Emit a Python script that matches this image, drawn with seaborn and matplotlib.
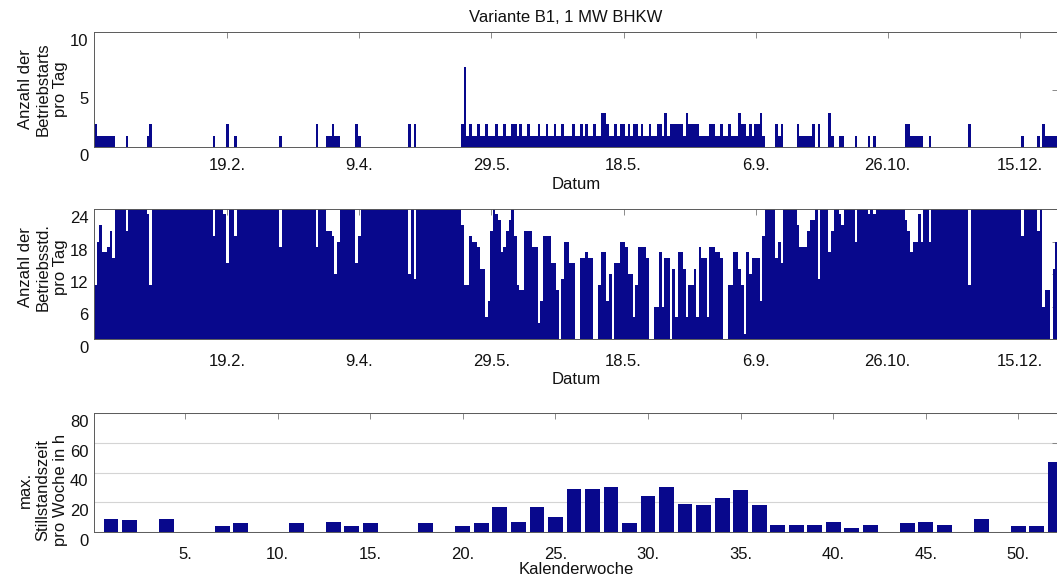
import numpy as np
import pandas as pd
import matplotlib
matplotlib.use("Agg")
import matplotlib.pyplot as plt
import matplotlib.transforms as mtransforms
import seaborn as sns

# Betriebsstarts pro Tag, nach Monaten
starts_jan = [2,1,1,1,1,1,1,1,0,0, 0,0,1,0,0,0,0,0,0,0, 1,2,0,0,0,0,0,0,0,0, 0]
starts_feb = [0,0,0,0,0,0,0,0,0,0, 0,0,0,0,1,0,0,0,0,2, 0,0,1,0,0,0,0,0]
starts_mar = [0,0,0,0,0,0,0,0,0,0, 0,1,0,0,0,0,0,0,0,0, 0,0,0,0,0,2,0,0,0,1, 1]
starts_apr = [2,1,1,0,0,0,0,0,0,2, 1,0,0,0,0,0,0,0,0,0, 0,0,0,0,0,0,0,0,0,2]
starts_may = [0,2,0,0,0,0,0,0,0,0, 0,0,0,0,0,0,0,0,0,2, 7,1,2,1,1,2,1,1,2,1, 1]
starts_jun = [1,2,1,1,2,1,1,2,2,1, 2,1,1,2,1,1,1,2,1,1, 2,1,1,2,1,1,2,1,1,1]
starts_jul = [2,1,1,2,1,2,1,1,2,1, 1,3,3,2,1,1,2,1,2,2, 1,2,1,2,2,1,2,1,1,2, 1]
starts_aug = [1,2,2,1,3,1,2,2,2,2, 2,1,3,2,2,2,2,1,1,1, 1,2,2,1,1,2,1,1,2,1, 1]
starts_sep = [1,3,2,2,1,2,1,2,2,3, 1,0,0,0,0,2,1,2,0,0, 0,0,0,2,1,1,1,1,1,2]
starts_oct = [0,2,0,0,0,3,1,0,0,1, 1,0,0,0,0,1,0,0,0,0, 1,0,1,0,0,0,0,0,0,0, 0]
starts_nov = [0,0,0,2,2,1,1,1,1,1, 0,0,1,0,0,0,0,0,0,0, 0,0,0,0,0,0,0,2,0,0]
starts_dec = [0,0,0,0,0,0,0,0,0,0, 0,0,0,0,0,0,0,1,0,0, 0,0,0,1,0,2,1,1,1,1, 1]

# Betriebsstunden pro Tag, nach Monaten
hours_jan = [10,18,21,16,16,17,20,15,24,24, 24,24,20,24,24,24,24,24,24,24, 23,10,24,24,24,24,24,24,24,24, 24]
hours_feb = [24,24,24,24,24,24,24,24,24,24, 24,24,24,24,19,24,24,24,23,14, 24,24,19,24,24,24,24,24]
hours_mar = [24,24,24,24,24,24,24,24,24,24, 24,17,24,24,24,24,24,24,24,24, 24,24,24,24,24,17,24,24,24,20, 20]
hours_apr = [19,12,18,24,24,24,24,24,24,14, 19,24,24,24,24,24,24,24,24,24, 24,24,24,24,24,24,24,24,24,12]
hours_may = [24,11,24,24,24,24,24,24,24,24, 24,24,24,24,24,24,24,24,24,21, 10,10,19,18,18,17,13,13,4,7, 20]
hours_jun = [24,23,22,16,17,20,22,24,19,10, 9,9,20,20,20,17,17,3,7,19, 19,19,14,14,9,0,11,18,18,14]
hours_jul = [14,0,0,15,15,16,15,15,0,0, 10,16,16,7,12,0,14,14,18,18, 17,12,12,4,10,17,17,17,15,0, 0]
hours_aug = [6,6,16,6,15,15,0,13,4,16, 16,13,4,10,10,13,4,17,15,15, 4,17,17,16,16,15,0,0,10,10, 16]
hours_sep = [16,13,10,1,16,12,15,15,15,7, 19,24,24,24,24,15,18,14,24,24, 24,24,24,21,17,17,17,20,22,22]
hours_oct = [24,11,24,24,24,16,20,24,24,23, 21,24,24,24,24,18,24,24,24,24, 23,24,23,24,24,24,24,24,24,24, 24]
hours_nov = [24,24,24,22,20,16,18,18,23,18, 24,24,18,24,24,24,24,24,24,24, 24,24,24,24,24,24,24,10,24,24]
hours_dec = [24,24,24,24,24,24,24,24,24,24, 24,24,24,24,24,24,24,19,24,24, 24,24,24,20,24,6,9,9,0,13, 18]

# max. Stillstandszeit pro Kalenderwoche in h
week_standstill = [9, 8, 0, 9, 0, 0, 4, 6, 0, 0,
                   6, 0, 7, 4, 6, 0, 0, 6, 0, 4,
                   6, 17, 7, 17, 10, 29, 29, 30.5, 6, 24.5,
                   30.5, 19, 18, 23, 28, 18, 5, 5, 5, 7,
                   2.5, 5, 0, 6, 7, 5, 0, 9, 0, 4,
                   4, 47]

date_ticks = [50, 100, 150, 200, 250, 300, 350]
date_labels = ["19.2.", "9.4.", "29.5.", "18.5.", "6.9.", "26.10.", "15.12."]
week_ticks = [5, 10, 15, 20, 25, 30, 35, 40, 45, 50]
week_labels = ["5.", "10.", "15.", "20.", "25.", "30.", "35.", "40.", "45.", "50."]

sns.set_theme(style="white")
plt.rcParams["font.family"] = ["Liberation Sans", "DejaVu Sans"]

BAR = "#08088c"
SPINE = "#5a5a5a"
FS = 12

starts = np.concatenate([starts_jan, starts_feb, starts_mar, starts_apr, starts_may, starts_jun,
                         starts_jul, starts_aug, starts_sep, starts_oct, starts_nov, starts_dec])
hours = np.concatenate([hours_jan, hours_feb, hours_mar, hours_apr, hours_may, hours_jun,
                        hours_jul, hours_aug, hours_sep, hours_oct, hours_nov, hours_dec])
df_days = pd.DataFrame({"tag": np.arange(len(starts)), "starts": starts, "stunden": hours})
df_weeks = pd.DataFrame({"kw": np.arange(1, len(week_standstill) + 1), "stillstand": week_standstill})

W, H = 1057, 580
fig = plt.figure(figsize=(W / 100, H / 100), dpi=100)


def px_axes(left, top, right, bottom):
    return fig.add_axes([left / W, 1 - bottom / H, (right - left) / W, (bottom - top) / H])


ax1 = px_axes(94, 32, 1058, 147)
ax2 = px_axes(94, 209, 1058, 339)
ax3 = px_axes(94, 413, 1058, 532)

bar_kw = dict(native_scale=True, color=BAR, saturation=1, errorbar=None, linewidth=0)
sns.barplot(data=df_days, x="tag", y="starts", width=1.0, ax=ax1, **bar_kw)
sns.barplot(data=df_days, x="tag", y="stunden", width=1.0, ax=ax2, **bar_kw)
sns.barplot(data=df_weeks, x="kw", y="stillstand", width=0.8, ax=ax3, **bar_kw)

# crisp, seamless daily bars
for ax in (ax1, ax2):
    for p in ax.patches:
        p.set_antialiased(False)

label_shift = mtransforms.ScaledTranslation(0, -0.08, fig.dpi_scale_trans)


def style(ax, xlim, xticks, xlabels, ylim, yticks, ylabel, xlabel, xpad, xlabpad, ylab_y):
    ax.set_xlim(*xlim)
    ax.set_ylim(*ylim)
    ax.set_xticks(xticks)
    ax.set_xticklabels(xlabels)
    ax.set_yticks(yticks)
    ax.set_yticklabels([str(v) for v in yticks])
    ax.tick_params(axis="both", direction="in", length=4, width=0.6, color="#777777",
                   top=True, right=True, labelsize=FS, labelcolor="#111111")
    ax.tick_params(axis="x", pad=xpad)
    ax.tick_params(axis="y", pad=4)
    for sp in ax.spines.values():
        sp.set_visible(True)
        sp.set_color(SPINE)
        sp.set_linewidth(0.7)
    for lab in ax.get_yticklabels():
        lab.set_transform(lab.get_transform() + label_shift)
    ax.set_ylabel(ylabel, fontsize=FS, color="#111111", linespacing=1.2)
    ax.yaxis.set_label_coords(-0.027, ylab_y)
    ax.set_xlabel(xlabel, fontsize=FS, color="#111111", labelpad=xlabpad)


style(ax1, (-0.5, 364.5), date_ticks, date_labels, (0, 10), [0, 5, 10],
      "Anzahl der\nBetriebstarts\npro Tag", "Datum", 8, 3, 0.5)
style(ax2, (-0.5, 364.5), date_ticks, date_labels, (0, 24), [0, 6, 12, 18, 24],
      "Anzahl der\nBetriebsstd.\npro Tag", "Datum", 11, 2, 0.55)
style(ax3, (0.08, 52.14), week_ticks, week_labels, (0, 80), [0, 20, 40, 60, 80],
      "max.\nStillstandszeit\npro Woche in h", "Kalenderwoche", 11, 0, 0.35)

ax3.set_axisbelow(True)
ax3.yaxis.grid(True, color="#d4d4d4", linewidth=0.8)

fig.text(566 / W, 1 - 18 / H, "Variante B1, 1 MW BHKW", ha="center", va="center",
         fontsize=FS, color="#111111")

fig.savefig("out.png", dpi=100)
